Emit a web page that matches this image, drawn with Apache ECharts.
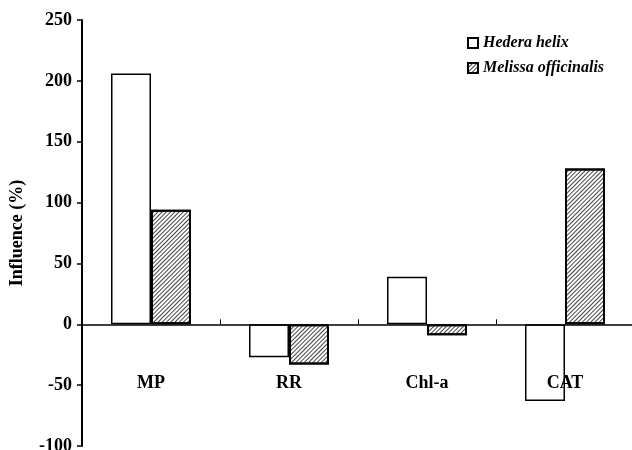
<!DOCTYPE html>
<html>
<head>
<meta charset="utf-8">
<script src="https://cdn.jsdelivr.net/npm/echarts@6/dist/echarts.min.js"></script>
<style>
  html, body { margin: 0; padding: 0; background: #fff; }
  #chart { width: 632px; height: 450px; }
</style>
</head>
<body>
<div id="chart"></div>
<script>
// data
const categories = ['MP', 'RR', 'Chl-a', 'CAT'];
const hederaHelix = [206, -27, 39, -63];
const melissaOfficinalis = [94, -33, -9, 128];
const yTicks = { min: -100, max: 250, step: 50 };

const font = '"Liberation Serif", "Times New Roman", serif';

const myChart = echarts.init(document.getElementById('chart'));

const option = {
  animation: false,
  textStyle: { fontFamily: font },
  grid: {
    left: 82,
    right: -2,
    top: 20,
    bottom: 4,
    containLabel: false,
    outerBoundsMode: 'none',
  },
  legend: {
    orient: 'vertical',
    left: 462,
    top: 30,
    itemWidth: 10,
    itemHeight: 10,
    itemGap: 9,
    icon: 'rect',
    textStyle: {
      fontFamily: font,
      fontSize: 16,
      fontStyle: 'italic',
      fontWeight: 'bold',
      color: '#000',
    },
    data: ['Hedera helix', 'Melissa officinalis'],
  },
  xAxis: {
    type: 'category',
    data: categories,
    axisLine: {
      onZero: true,
      lineStyle: { color: '#000', width: 1.5 },
    },
    axisTick: {
      show: true,
      inside: true,
      length: 5,
      lineStyle: { color: '#000', width: 1 },
    },
    axisLabel: {
      // labels sit near -50, not under the zero line
      margin: -72,
      color: '#000',
      fontFamily: font,
      fontWeight: 'bold',
      fontSize: 18,
    },
  },
  yAxis: {
    type: 'value',
    min: yTicks.min,
    max: yTicks.max,
    interval: yTicks.step,
    name: 'Influence (%)',
    nameLocation: 'middle',
    nameGap: 56,
    nameTextStyle: {
      fontFamily: font,
      fontWeight: 'bold',
      fontSize: 18,
      color: '#000',
    },
    splitLine: { show: false },
    axisLine: {
      show: true,
      lineStyle: { color: '#000', width: 2 },
    },
    axisTick: {
      show: true,
      length: 5,
      lineStyle: { color: '#000', width: 1.5 },
    },
    axisLabel: {
      margin: 10,
      color: '#000',
      fontFamily: font,
      fontWeight: 'bold',
      fontSize: 18,
    },
  },
  series: [
    {
      name: 'Hedera helix',
      type: 'bar',
      barWidth: 40,
      barGap: '0%',
      itemStyle: {
        // open bar: the CAT label shows through it
        color: 'rgba(255,255,255,0)',
        borderColor: '#000',
        borderWidth: 1.5,
      },
      data: hederaHelix,
    },
    {
      name: 'Melissa officinalis',
      type: 'bar',
      barWidth: 40,
      itemStyle: {
        color: '#fff',
        borderColor: '#000',
        borderWidth: 2,
        decal: {
          symbol: 'rect',
          color: '#444',
          dashArrayX: [1, 0],
          dashArrayY: [1, 2],
          rotation: -Math.PI / 4,
        },
      },
      data: melissaOfficinalis,
    },
  ],
};

option && myChart.setOption(option);
</script>
</body>
</html>
